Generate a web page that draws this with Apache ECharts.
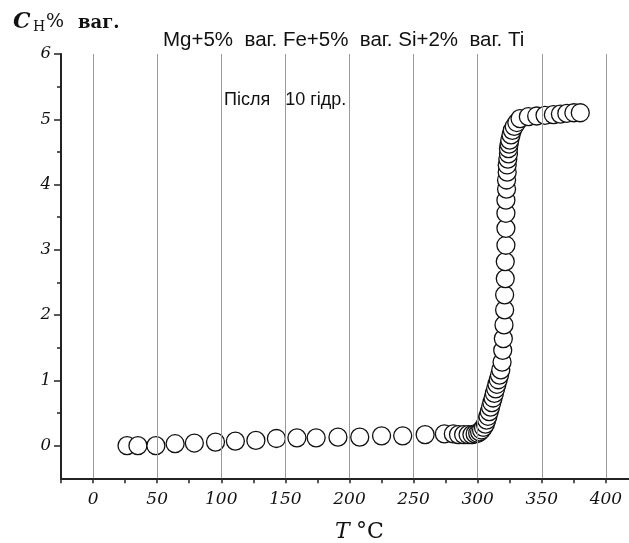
<!DOCTYPE html>
<html>
<head>
<meta charset="utf-8">
<script src="https://cdn.jsdelivr.net/npm/echarts@6/dist/echarts.min.js"></script>
<style>html,body{margin:0;padding:0;background:#fff}#c{width:629px;height:543px}</style>
</head>
<body>
<div id="c"></div>
<script>
// Data
const temperature = [26.5,35,49,64,79,95.5,111,127,143,159,
  174,191,208,225,241.5,259,274,281,285,289,
  292.5,295.5,298,300,301.5,303,304.5,306,307,308,
  309,310,311,312,313,314,315,316,317,318,
  319,319.5,320,320.5,321,321,321.5,321.5,322,322,
  322,322,322.5,322.5,323,323,323.5,324,324,324.5,
  325,326,327,328.5,330.5,333,339.5,346,352.5,359,
  364.5,369.5,375,380];
const hydrogen = [0,0,0,0.03,0.04,0.055,0.07,0.08,0.11,0.12,
  0.12,0.13,0.13,0.15,0.15,0.17,0.18,0.18,0.17,0.17,
  0.17,0.17,0.18,0.19,0.21,0.24,0.28,0.33,0.39,0.45,
  0.52,0.59,0.66,0.73,0.80,0.87,0.94,1.01,1.08,1.16,
  1.28,1.46,1.64,1.85,2.08,2.31,2.56,2.82,3.07,3.33,
  3.56,3.76,3.93,4.07,4.19,4.30,4.39,4.47,4.55,4.62,
  4.68,4.76,4.83,4.89,4.95,5.01,5.04,5.05,5.06,5.07,
  5.08,5.09,5.10,5.10];
const xLabels = [0,50,100,150,200,250,300,350,400];
const xTicks = [-25,0,25,50,75,100,125,150,175,200,225,250,275,300,325,350,375,400];
const yLabels = [0,1,2,3,4,5,6];
const yMinorTicks = [0.5,1.5,2.5,3.5,4.5,5.5];
const titleText = 'Mg+5%  ваг. Fe+5%  ваг. Si+2%  ваг. Ti';
const noteText = 'Після   10 гідр.';

const chart = echarts.init(document.getElementById('c'), null, {renderer:'canvas'});
const serif = 'DejaVu Serif';
const points = temperature.map((t,i)=>[t, hydrogen[i]]);

chart.setOption({
  animation:false,
  backgroundColor:'#fff',
  grid:{left:61, top:54, width:568, height:424.3, containLabel:false},
  xAxis:{
    type:'value', min:-25, max:418,
    axisLine:{show:true, onZero:false, lineStyle:{color:'#222', width:2}},
    axisTick:{show:true, customValues:xTicks, length:5, lineStyle:{color:'#222', width:1.5}},
    axisLabel:{show:true, customValues:xLabels, margin:13, fontFamily:serif, fontStyle:'italic', fontSize:17, color:'#111'},
    splitLine:{show:false}
  },
  yAxis:[{
    type:'value', min:-0.5, max:6, position:'left',
    axisLine:{show:true, onZero:false, lineStyle:{color:'#222', width:2}},
    axisTick:{show:true, customValues:yLabels, length:7, lineStyle:{color:'#222', width:1.5}},
    axisLabel:{show:true, customValues:yLabels, margin:10, fontFamily:serif, fontStyle:'italic', fontSize:16.5, color:'#111'},
    splitLine:{show:false}
  },{
    type:'value', min:-0.5, max:6, position:'left', offset:0,
    axisLine:{show:false, onZero:false},
    axisTick:{show:true, customValues:yMinorTicks, length:4, lineStyle:{color:'#222', width:1.5}},
    axisLabel:{show:false},
    splitLine:{show:false}
  }],
  series:[{
    type:'scatter', data:[], z:1, silent:true,
    markLine:{
      silent:true, symbol:['none','none'], label:{show:false}, animation:false,
      lineStyle:{color:'#9a9a9a', width:1, type:'solid'},
      emphasis:{disabled:true},
      data: xLabels.map(v=>({xAxis:v}))
    }
  },{
    type:'scatter', z:3,
    symbol:'circle', symbolSize:18,
    itemStyle:{color:'#fff', borderColor:'#111', borderWidth:1.3, opacity:1},
    data: points
  }],
  graphic:[
    {type:'text', left:13, top:11, style:{text:'C', font:'bold italic 22px "DejaVu Serif"', fill:'#111'}},
    {type:'text', left:33, top:20, style:{text:'H', font:'14px "DejaVu Serif"', fill:'#111'}},
    {type:'text', left:46, top:13, style:{text:'%', font:'19px "DejaVu Serif"', fill:'#111'}},
    {type:'text', left:78, top:14, style:{text:'ваг.', font:'bold 18px "DejaVu Serif"', fill:'#111'}},
    {type:'text', left:163, top:30, style:{text:titleText, font:'20.5px "Liberation Sans"', fill:'#111'}},
    {type:'text', left:224, top:91, style:{text:noteText, font:'18px "Liberation Sans"', fill:'#111'}},
    {type:'text', left:335, top:521, style:{text:'T', font:'italic 22px "DejaVu Serif"', fill:'#111'}},
    {type:'text', left:356, top:521, style:{text:'°C', font:'22px "DejaVu Serif"', fill:'#111'}}
  ]
});
</script>
</body>
</html>
